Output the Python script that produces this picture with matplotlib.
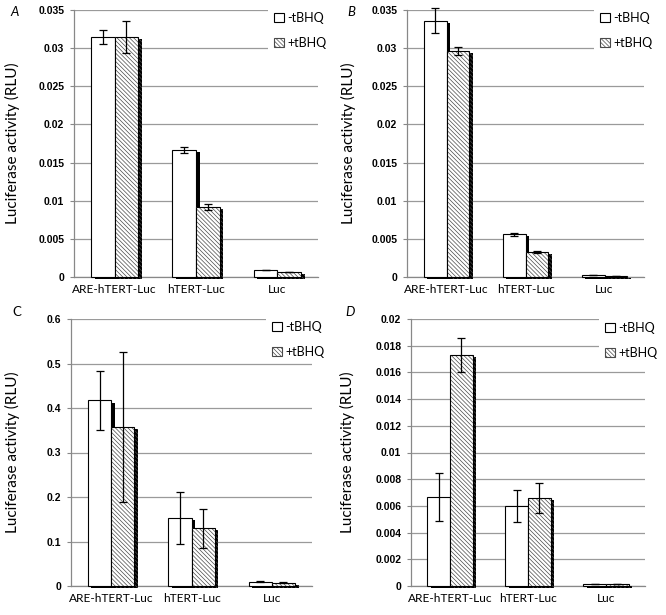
import numpy as np
import matplotlib
matplotlib.use("Agg")
import matplotlib.pyplot as plt
import matplotlib.patheffects as pe
from matplotlib.patches import Patch

categories = ["ARE-hTERT-Luc", "hTERT-Luc", "Luc"]
legend_labels = ["-tBHQ", "+tBHQ"]

# panel A
a_minus = [0.0315, 0.0166, 0.0009]
a_minus_err = [0.0009, 0.0004, 0.0]
a_plus = [0.0315, 0.0092, 0.0007]
a_plus_err = [0.0021, 0.0004, 0.0]
a_ticks = [0, 0.005, 0.01, 0.015, 0.02, 0.025, 0.03, 0.035]

# panel B
b_minus = [0.0336, 0.0056, 0.0002]
b_minus_err = [0.0016, 0.0002, 0.0]
b_plus = [0.0296, 0.0033, 0.00015]
b_plus_err = [0.0005, 0.0001, 0.0]
b_ticks = [0, 0.005, 0.01, 0.015, 0.02, 0.025, 0.03, 0.035]

# panel C
c_minus = [0.417, 0.153, 0.010]
c_minus_err = [0.066, 0.058, 0.002]
c_plus = [0.357, 0.130, 0.007]
c_plus_err = [0.168, 0.044, 0.001]
c_ticks = [0, 0.1, 0.2, 0.3, 0.4, 0.5, 0.6]

# panel D
d_minus = [0.0067, 0.0060, 0.00015]
d_minus_err = [0.0018, 0.0012, 0.00003]
d_plus = [0.0173, 0.0066, 0.00015]
d_plus_err = [0.0013, 0.0011, 0.00003]
d_ticks = [0, 0.002, 0.004, 0.006, 0.008, 0.01, 0.012, 0.014, 0.016, 0.018, 0.02]

W, H = 666, 615
HATCH = "\\" * 8
plt.rcParams["hatch.linewidth"] = 0.5

fig = plt.figure(figsize=(W / 100, H / 100), dpi=100)


def panel(rect_px, letter, italic, minus, minus_err, plus, plus_err, ticks,
          leg_px, letter_px, ylab_x):
    left, top, right, bottom = rect_px
    ax = fig.add_axes([left / W, 1 - bottom / H, (right - left) / W, (bottom - top) / H])
    x = np.arange(len(categories)) + 0.5
    w = 0.29
    shadow = [pe.SimplePatchShadow(offset=(2.6, -1.5), shadow_rgbFace="black", alpha=1.0),
              pe.Normal()]
    for i in range(len(categories)):
        b1 = ax.bar(x[i] - w / 2, minus[i], w, color="white", edgecolor="black",
                    linewidth=0.8, zorder=3, clip_on=False)
        b1[0].set_path_effects(shadow)
        b2 = ax.bar(x[i] + w / 2, plus[i], w, color="white", edgecolor="#4a4a4a",
                    linewidth=0, hatch=HATCH, zorder=3, clip_on=False)
        b2[0].set_path_effects(shadow)
        ax.bar(x[i] + w / 2, plus[i], w, fill=False, edgecolor="black",
               linewidth=0.8, zorder=3, clip_on=False)
    for xs, ys, es in [(x - w / 2, minus, minus_err), (x + w / 2, plus, plus_err)]:
        eb = ax.errorbar(xs, ys, yerr=es, fmt="none", ecolor="black",
                         elinewidth=0.9, capsize=3.2, capthick=0.9, zorder=4)
        for art in eb.lines[1] + eb.lines[2]:
            art.set_clip_on(False)

    ax.set_xlim(0, 3)
    ax.set_ylim(0, ticks[-1])
    ax.set_yticks(ticks)
    ax.set_yticklabels([f"{t:g}" for t in ticks], fontfamily="Liberation Sans",
                       fontweight="bold", fontsize=7.5)
    ax.set_xticks(x)
    ax.set_xticklabels(categories, fontfamily="Lato", fontsize=8.6)
    ax.tick_params(axis="x", length=0, pad=5)
    ax.tick_params(axis="y", length=3, color="#888888", pad=4)
    ax.yaxis.grid(True, color="#9a9a9a", linewidth=0.9)
    ax.set_axisbelow(True)
    for s in ["top", "right"]:
        ax.spines[s].set_visible(False)
    for s in ["left", "bottom"]:
        ax.spines[s].set_color("#888888")
        ax.spines[s].set_linewidth(0.9)

    ax.set_ylabel("Luciferase activity (RLU)", fontfamily="Lato", fontsize=11)
    ax.yaxis.set_label_coords(-(left - ylab_x) / (right - left), 0.5)

    handles = [Patch(facecolor="white", edgecolor="black", linewidth=0.8),
               Patch(facecolor="white", edgecolor="#4a4a4a", hatch=HATCH, linewidth=0.8)]
    leg = ax.legend(handles, legend_labels, loc="upper left",
                    bbox_to_anchor=(leg_px[0] / W, 1 - leg_px[1] / H),
                    bbox_transform=fig.transFigure, borderaxespad=0,
                    frameon=True, fancybox=False, framealpha=1, edgecolor="none",
                    facecolor="white", prop={"family": "Lato", "size": 9},
                    handlelength=0.8, handleheight=0.8, handletextpad=0.3,
                    labelspacing=1.05, borderpad=0.45)
    leg.set_zorder(6)

    fig.text(letter_px[0] / W, 1 - letter_px[1] / H, letter, fontfamily="Lato",
             fontsize=9.5, style="italic" if italic else "normal",
             ha="center", va="center")
    return ax


panel((74, 10, 318, 277), "A", True, a_minus, a_minus_err, a_plus, a_plus_err,
      a_ticks, (268, 6), (15, 12), 20)
panel((407, 10, 644, 277), "B", True, b_minus, b_minus_err, b_plus, b_plus_err,
      b_ticks, (594, 6), (351, 12), 356)
panel((71, 319, 312, 586), "C", False, c_minus, c_minus_err, c_plus, c_plus_err,
      c_ticks, (266, 315), (17, 312), 20)
panel((411, 319, 645, 586), "D", True, d_minus, d_minus_err, d_plus, d_plus_err,
      d_ticks, (599, 316), (350, 312), 355)

fig.savefig("out.png", dpi=100)
